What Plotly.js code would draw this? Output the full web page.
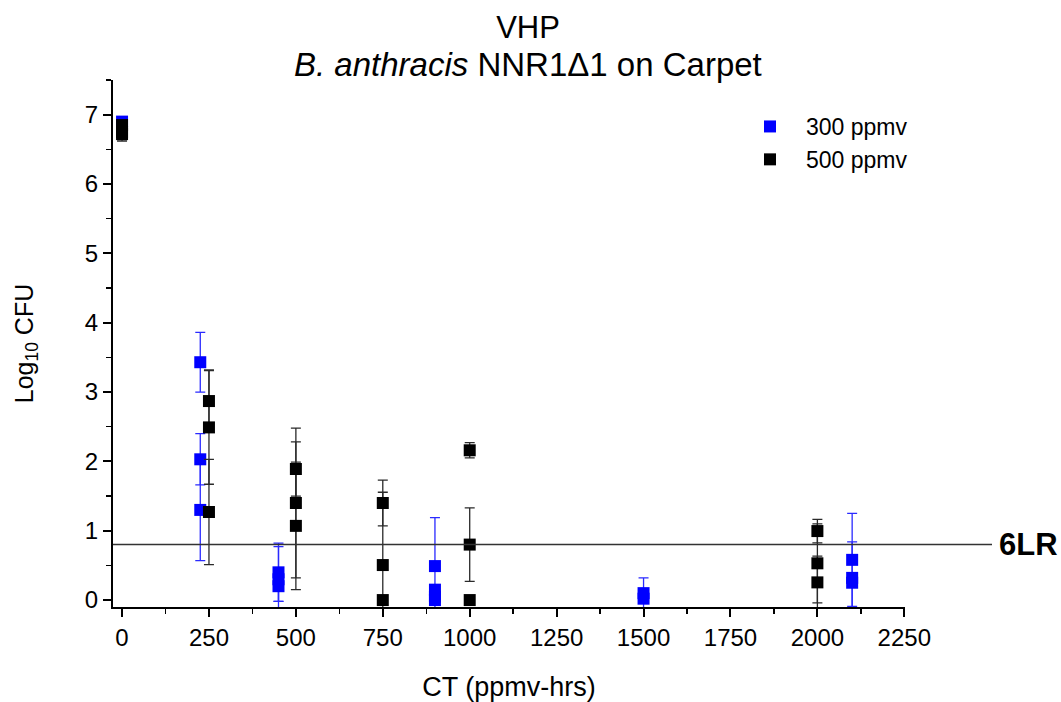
<!DOCTYPE html>
<html>
<head>
<meta charset="utf-8">
<script src="https://cdn.plot.ly/plotly-3.0.1.min.js"></script>
<style>html,body{margin:0;padding:0;background:#fff;}#chart{width:1061px;height:702px;}</style>
</head>
<body>
<div id="chart"></div>
<script>
// 300 ppmv series
var ct300 = [0, 225, 225, 225, 450, 450, 450, 900, 900, 900, 900, 1500, 1500, 2100, 2100, 2100];
var log300 = [6.9, 3.43, 2.03, 1.30, 0.40, 0.30, 0.20, 0.49, 0.15, 0.05, 0.0, 0.10, 0.02, 0.58, 0.32, 0.25];
var err300 = [0.05, 0.43, 0.37, 0.73, 0.42, 0.47, 0.22, 0.70, 0, 0, 0, 0.22, 0, 0.67, 0.52, 0];

// 500 ppmv series
var ct500 = [0, 0, 0, 250, 250, 250, 500, 500, 500, 750, 750, 750, 1000, 1000, 1000, 2000, 2000, 2000];
var log500 = [6.85, 6.75, 6.72, 2.87, 2.49, 1.27, 1.89, 1.40, 1.07, 1.40, 0.505, 0.0, 2.16, 0.80, 0.0, 0.995, 0.53, 0.255];
var err500 = [0.05, 0.05, 0.10, 0.45, 0.82, 0.76, 0.39, 1.08, 0.92, 0.33, 1.05, 0, 0.11, 0.53, 0, 0.17, 0.57, 0.38];

var seriesNames = ['300 ppmv', '500 ppmv'];
var xTicks = [0, 250, 500, 750, 1000, 1250, 1500, 1750, 2000, 2250];
var yTicks = [0, 1, 2, 3, 4, 5, 6, 7];
var thresholdLog = 0.8;
var thresholdLabel = '6LR';

var font = 'Liberation Sans, Arial, Helvetica, sans-serif';

var traces = [
  {
    x: ct300, y: log300, name: seriesNames[0], type: 'scatter', mode: 'markers',
    marker: {symbol: 'square', size: 12, color: '#0000ff'},
    error_y: {type: 'data', array: err300, visible: true, color: '#2a2aff', thickness: 1.3, width: 5}
  },
  {
    x: ct500, y: log500, name: seriesNames[1], type: 'scatter', mode: 'markers',
    marker: {symbol: 'square', size: 12, color: '#000000'},
    error_y: {type: 'data', array: err500, visible: true, color: '#2a2a2a', thickness: 1.3, width: 5}
  }
];

var layout = {
  width: 1061, height: 702,
  paper_bgcolor: '#ffffff', plot_bgcolor: '#ffffff',
  margin: {l: 113, r: 156, t: 80, b: 95},
  font: {family: font, color: '#000', size: 24},
  showlegend: true,
  title: {text: 'VHP', x: 528 / 1061, xanchor: 'center', xref: 'container', y: 1 - 27 / 702, yanchor: 'middle', yref: 'container',
          font: {family: font, size: 31, color: '#000'}},
  annotations: [
    {text: '<i>B. anthracis</i> NNR1\u03941 on Carpet', xref: 'paper', yref: 'paper',
     x: (528 - 113) / 792, y: (607 - 64) / 527, xanchor: 'center', yanchor: 'middle', showarrow: false,
     font: {family: font, size: 33, color: '#000'}},
    {text: '<b>' + thresholdLabel + '</b>', xref: 'paper', yref: 'y', x: (997 - 113) / 792, y: thresholdLog,
     xanchor: 'left', yanchor: 'middle', showarrow: false, font: {family: font, size: 31, color: '#000'}}
  ],
  shapes: [
    {type: 'line', xref: 'paper', yref: 'y', x0: 0, x1: (992 - 113) / 792, y0: thresholdLog, y1: thresholdLog,
     line: {color: '#333333', width: 1.5}}
  ],
  legend: {x: (734 - 113) / 792, y: (607 - 105) / 527, xanchor: 'left', yanchor: 'top', itemwidth: 62,
           bgcolor: 'rgba(0,0,0,0)', font: {family: font, size: 23, color: '#000'}, tracegroupgap: 0},
  xaxis: {
    range: [-26, 2252], tickvals: xTicks, ticktext: xTicks.map(String), tickmode: 'array',
    showgrid: false, zeroline: false, showline: true, linecolor: '#000', linewidth: 2,
    ticks: 'outside', ticklen: 8, tickwidth: 2, tickcolor: '#000',
    tickfont: {family: font, size: 24},
    minor: {dtick: 125, tick0: 0, ticks: 'outside', ticklen: 5, tickwidth: 1.5, tickcolor: '#000', showgrid: false},
    title: {text: 'CT (ppmv-hrs)', font: {family: font, size: 27}, standoff: 28}
  },
  yaxis: {
    range: [-0.1, 7.5], tickvals: yTicks, ticktext: yTicks.map(String), tickmode: 'array',
    showgrid: false, zeroline: false, showline: true, linecolor: '#000', linewidth: 2,
    ticks: 'outside', ticklen: 8, tickwidth: 2, tickcolor: '#000',
    tickfont: {family: font, size: 24},
    minor: {dtick: 0.5, tick0: 0, ticks: 'outside', ticklen: 5, tickwidth: 1.5, tickcolor: '#000', showgrid: false},
    title: {text: 'Log<sub>10</sub> CFU', font: {family: font, size: 25}, standoff: 44}
  }
};

Plotly.newPlot('chart', traces, layout, {staticPlot: true, displayModeBar: false});
</script>
</body>
</html>
